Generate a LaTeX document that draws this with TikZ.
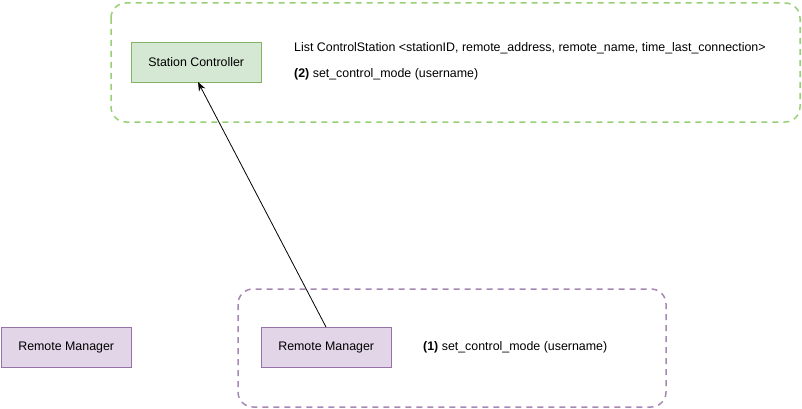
\documentclass[tikz,border=0pt]{standalone}
\usepackage{fontspec}
\setmainfont{Liberation Sans}
\usetikzlibrary{arrows.meta}
\definecolor{greenfill}{HTML}{D5E8D4}
\definecolor{greenline}{HTML}{82B366}
\definecolor{greendash}{HTML}{97D077}
\definecolor{purplefill}{HTML}{E1D5E7}
\definecolor{purpleline}{HTML}{9673A6}
\begin{document}
\begin{tikzpicture}[x=1pt,y=-1pt,
  every node/.style={font=\fontsize{12.4}{14}\selectfont},
  greenbox/.style={draw=greenline,fill=greenfill,minimum width=130pt,minimum height=40pt,inner sep=0pt,anchor=north west},
  purplebox/.style={draw=purpleline,fill=purplefill,minimum width=130pt,minimum height=40pt,inner sep=0pt,anchor=north west},
  groupbox/.style={rounded corners=15pt,line width=1.5pt,dash pattern=on 6pt off 5pt},
  lbl/.style={anchor=west,inner sep=0pt}
]
\useasboundingbox (0,0) rectangle (802,409);
\draw[groupbox,draw=greendash] (111,3) rectangle (800,122);
\draw[groupbox,draw=purpleline!85] (238,289) rectangle (666,407);
\node[greenbox] (sc) at (131,42) {Station Controller};
\node[purplebox] (rm1) at (1,327) {Remote Manager};
\node[purplebox] (rm2) at (261,327) {Remote Manager};
\node[lbl] (l1) at (294,48) {List ControlStation <stationID, remote\_address, remote\_name, time\_last\_connection>};
\node[lbl] (l2) at (294,74) {\textbf{(2)} set\_control\_mode (username)};
\node[lbl] (l3) at (423,347) {\textbf{(1)} set\_control\_mode (username)};
\coordinate (s) at (326,327);
\coordinate (t) at (198,82);
\draw[-{Stealth[length=9pt,width=7pt]},line width=0.8pt] (s) -- (t);
\end{tikzpicture}
\end{document}
